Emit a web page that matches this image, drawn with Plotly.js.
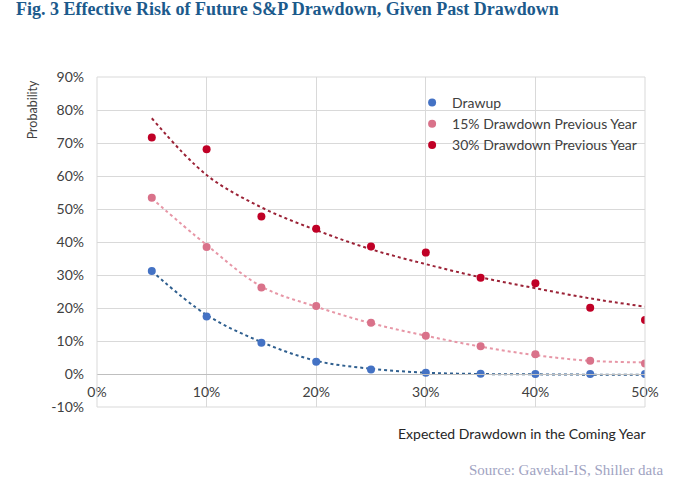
<!DOCTYPE html>
<html>
<head>
<meta charset="utf-8">
<script src="https://cdn.plot.ly/plotly-3.0.1.min.js"></script>
<style>
  html, body { margin: 0; padding: 0; background: #fff; }
  #chart { width: 680px; height: 485px; }
</style>
</head>
<body>
<div id="chart"></div>
<script>
// expected drawdown in the coming year (x)
const drawdown = [0.05, 0.10, 0.15, 0.20, 0.25, 0.30, 0.35, 0.40, 0.45, 0.50];

// observed probabilities
const drawup = [0.312, 0.174, 0.095, 0.037, 0.014, 0.004, 0.001, 0.0, 0.0, 0.0];
const prev15 = [0.534, 0.385, 0.262, 0.206, 0.155, 0.116, 0.084, 0.060, 0.040, 0.032];
const prev30 = [0.717, 0.681, 0.477, 0.440, 0.386, 0.368, 0.292, 0.275, 0.201, 0.164];

// dotted trendlines
const drawupTrend = [0.312, 0.179, 0.097, 0.040, 0.016, 0.004, 0.0, -0.001, -0.002, -0.002];
const prev15Trend = [0.532, 0.391, 0.265, 0.204, 0.154, 0.116, 0.083, 0.057, 0.040, 0.035];
const prev30Trend = [0.775, 0.603, 0.505, 0.436, 0.378, 0.333, 0.293, 0.260, 0.229, 0.204];

const names = ["Drawup", "15% Drawdown Previous Year", "30% Drawdown Previous Year"];

// axis ticks (hyphen minus like the original)
const xTickVals = [0, 0.1, 0.2, 0.3, 0.4, 0.5];
const xTickText = ["0%", "10%", "20%", "30%", "40%", "50%"];
const yTickVals = [-0.1, 0, 0.1, 0.2, 0.3, 0.4, 0.5, 0.6, 0.7, 0.8, 0.9];
const yTickText = ["-10%", "0%", "10%", "20%", "30%", "40%", "50%", "60%", "70%", "80%", "90%"];

function markers(y, name, color) {
  return {
    x: drawdown, y: y, name: name, type: "scatter", mode: "markers",
    marker: { color: color, size: 8 },
    hoverinfo: "x+y",
  };
}

function trend(y, color) {
  return {
    x: drawdown, y: y, type: "scatter", mode: "lines", showlegend: false,
    line: { color: color, width: 2, dash: "dot", shape: "spline" },
    hoverinfo: "skip",
  };
}

const traces = [
  trend(drawupTrend, "#2f5f8f"),
  trend(prev15Trend, "#e796a6"),
  trend(prev30Trend, "#9b2236"),
  markers(drawup, names[0], "#4472c4"),
  markers(prev15, names[1], "#d9728a"),
  markers(prev30, names[2], "#c00026"),
];

const sans = "Lato, 'Liberation Sans', sans-serif";
const axisFont = { family: sans, size: 14, color: "#404040" };

const layout = {
  width: 680,
  height: 485,
  margin: { l: 97, r: 35, t: 77, b: 78 },
  paper_bgcolor: "#fff",
  plot_bgcolor: "#fff",
  showlegend: true,
  legend: {
    x: 0.575, y: 0.97, xanchor: "left", yanchor: "top",
    font: { family: sans, size: 14, color: "#404040" },
    bgcolor: "rgba(255,255,255,0)",
    itemwidth: 30,
    tracegroupgap: 0,
  },
  xaxis: {
    range: [0, 0.5],
    tickvals: xTickVals,
    ticktext: xTickText,
    showgrid: true,
    gridcolor: "#d9d9d9",
    zeroline: false,
    showline: true,
    linecolor: "#bfbfbf",
    anchor: "free",
    position: 0.1,
    ticks: "",
    ticklabelstandoff: 5,
    tickfont: axisFont,
    fixedrange: true,
  },
  yaxis: {
    range: [-0.1, 0.9],
    tickvals: yTickVals,
    ticktext: yTickText,
    showgrid: true,
    gridcolor: "#d9d9d9",
    zeroline: false,
    showline: false,
    ticks: "",
    ticklabelstandoff: 12,
    tickfont: axisFont,
    fixedrange: true,
  },
  shapes: [
    { type: "rect", xref: "paper", yref: "paper", x0: 0, x1: 1, y0: 0, y1: 1,
      line: { color: "#d9d9d9", width: 1 } },
  ],
  annotations: [
    {
      text: "Fig. 3 Effective Risk of Future S&amp;P Drawdown, Given Past Drawdown",
      xref: "paper", yref: "paper", x: -0.152, y: 1.205, xanchor: "left", yanchor: "middle",
      showarrow: false,
      font: { family: "'Liberation Serif', 'DejaVu Serif', serif", size: 18, color: "#1b5a8c", weight: 700 },
    },
    {
      text: "Probability",
      xref: "paper", yref: "paper", x: -0.118, y: 0.9, xanchor: "center", yanchor: "middle",
      textangle: -90, showarrow: false,
      font: { family: sans, size: 12.5, color: "#404040" },
    },
    {
      text: "Expected Drawdown in the Coming Year",
      xref: "paper", yref: "paper", x: 1.005, y: -0.08, xanchor: "right", yanchor: "middle",
      showarrow: false,
      font: { family: sans, size: 14, color: "#262626" },
    },
    {
      text: "Source: Gavekal-IS, Shiller data",
      xref: "paper", yref: "paper", x: 1.037, y: -0.19, xanchor: "right", yanchor: "middle",
      showarrow: false,
      font: { family: "'Liberation Serif', 'DejaVu Serif', serif", size: 15, color: "#9fa3c2" },
    },
  ],
};

Plotly.newPlot("chart", traces, layout, { displayModeBar: false, responsive: false });
</script>
</body>
</html>
